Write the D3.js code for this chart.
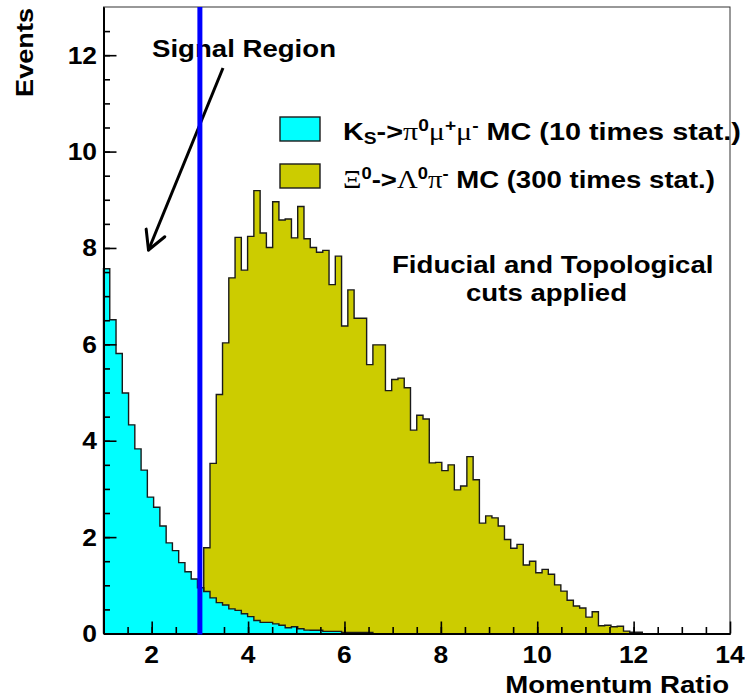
<!DOCTYPE html>
<html><head><meta charset="utf-8">
<script src="https://cdn.jsdelivr.net/npm/d3@7"></script>
<style>body{margin:0;background:#fff}svg{display:block}</style>
</head><body><svg id="c" width="745" height="699"></svg>
<script>
// ---------- data ----------
const binStart = 1;
const binWidth = 0.13;
// K_S -> pi0 mu+ mu- MC (cyan), bins from x=1
const ksValues = [7.57, 6.51, 5.81, 4.99, 4.33, 3.83, 3.39, 2.83, 2.62, 2.23, 1.88, 1.72, 1.47, 1.28, 1.13, 0.95, 0.87, 0.74, 0.64, 0.59, 0.51, 0.48, 0.41, 0.35, 0.27, 0.23, 0.23, 0.20, 0.17, 0.12, 0.14, 0.10, 0.07, 0.066, 0.066, 0.045, 0.045, 0.045, 0.02, 0.02, 0.02, 0.02, 0.02];
// Xi0 -> Lambda0 pi- MC (olive), bins from x=1
const xiValues = [0,0,0,0,0,0,0,0,0,0,0,0,0,0,0,0,
  1.78, 3.53, 4.96, 6.03, 7.38, 8.22, 7.54, 8.24, 9.19, 8.31, 8.01, 8.96, 8.58, 8.60, 8.21, 8.86, 8.19, 8.01, 7.91, 7.95,
  7.24, 7.83, 6.38, 7.13, 6.54, 6.54, 5.58, 5.99, 5.99, 5.04, 5.27, 5.30, 5.10, 4.22, 4.53, 4.45, 3.54, 3.55, 3.38, 3.50,
  2.98, 3.06, 3.67, 3.19, 2.29, 2.44, 2.40, 2.23, 1.95, 1.77, 1.85, 1.42, 1.50, 1.26, 1.33, 1.23, 1.01, 0.88, 0.69, 0.57,
  0.53, 0.34, 0.45, 0.16, 0.17, 0.14, 0.15, 0.05, 0.025, 0.025];
const xTicks = [2, 4, 6, 8, 10, 12, 14];
const yTicks = [0, 2, 4, 6, 8, 10, 12];
const xDomain = [1, 14];
const yDomain = [0, 13];
const signalCut = 3;
const xTitle = "Momentum Ratio";
const yTitle = "Events";
const signalText = "Signal Region";
const noteLines = ["Fiducial and Topological", "cuts applied"];

// ---------- setup ----------
const svg = d3.select("#c");
const x = d3.scaleLinear().domain(xDomain).range([103.5, 730]);
const y = d3.scaleLinear().domain(yDomain).range([633.5, 7]);
const SANS = "'Liberation Sans', Arial, Helvetica, sans-serif";
const SERIF = "'Liberation Serif', 'Times New Roman', serif";
const SX = 1.15;

function histPoints(vals) {
  const pts = [[binStart, 0]];
  vals.forEach((v, i) => pts.push([binStart + i * binWidth, v]));
  const end = binStart + vals.length * binWidth;
  pts.push([end, vals[vals.length - 1]]);
  pts.push([end, 0]);
  return pts;
}
const area = d3.area().curve(d3.curveStepAfter).x(d => x(d[0])).y0(y(0)).y1(d => y(d[1]));
const line = d3.line().curve(d3.curveStepAfter).x(d => x(d[0])).y(d => y(d[1]));

function drawHist(vals, fill) {
  const p = histPoints(vals);
  svg.append("path").attr("d", area(p)).attr("fill", fill);
  svg.append("path").attr("d", line(p)).attr("fill", "none").attr("stroke", "#1a1a1a").attr("stroke-width", 1.4);
}
drawHist(xiValues, "#cccc00");
drawHist(ksValues, "#00ffff");

// frame
svg.append("rect").attr("x", x(xDomain[0])).attr("y", y(yDomain[1]))
  .attr("width", x(xDomain[1]) - x(xDomain[0])).attr("height", y(yDomain[0]) - y(yDomain[1]))
  .attr("fill", "none").attr("stroke", "#333").attr("stroke-width", 1);

// axes (ticks inward)
const minorX = d3.range(1.5, 14, 0.5);
const minorY = d3.range(0.5, 13, 0.5);
function styleAxis(g) {
  g.selectAll("path").attr("stroke", "#000").attr("stroke-width", 2);
  g.selectAll("line").attr("stroke", "#000").attr("stroke-width", 1.6);
  g.selectAll("text").remove();
}
svg.append("g").attr("transform", `translate(0,${y(0)})`)
  .call(d3.axisBottom(x).tickValues(minorX).tickSizeInner(-6.5).tickSizeOuter(0).tickFormat("")).call(styleAxis);
svg.append("g").attr("transform", `translate(0,${y(0)})`)
  .call(d3.axisBottom(x).tickValues(xTicks).tickSizeInner(-12).tickSizeOuter(0).tickFormat("")).call(styleAxis);
svg.append("g").attr("transform", `translate(${x(xDomain[0])},0)`)
  .call(d3.axisLeft(y).tickValues(minorY).tickSizeInner(-6.5).tickSizeOuter(0).tickFormat("")).call(styleAxis);
svg.append("g").attr("transform", `translate(${x(xDomain[0])},0)`)
  .call(d3.axisLeft(y).tickValues(yTicks).tickSizeInner(-13).tickSizeOuter(0).tickFormat("")).call(styleAxis);

// helper for stretched bold text
function txt(s, px, py, anchor, opts = {}) {
  const t = svg.append("text")
    .attr("transform", `translate(${px},${py})${opts.rotate ? " rotate(-90)" : ""} scale(${opts.sx || SX},1)`)
    .attr("text-anchor", anchor)
    .style("font-family", SANS).style("font-weight", "bold")
    .style("font-size", (opts.size || 24) + "px").attr("fill", "#000").text(s);
  return t;
}

// tick labels
xTicks.forEach(v => txt(String(v), x(v), 663, "middle", {sx: 1.1}));
yTicks.forEach(v => txt(String(v), 97, y(v) + 8.5, "end", {sx: 1.1}));

// titles
txt(xTitle, 729, 693, "end");
txt(yTitle, 33, 8, "end", {rotate: true, sx: 1.13});
txt(signalText, 152, 57, "start");
txt(noteLines[0], 392, 273, "start");
txt(noteLines[1], 466, 301, "start");

// legend
const legendRows = [
  {fill: "#00ffff", top: 117, base: 140, width: 398, parts: [
    ["K"], ["S", "sub"], ["->"], ["\u03c0", "g"], ["0", "sup"], ["\u03bc", "g"], ["+", "sup"], ["\u03bc", "g"], ["-", "sup"], [" MC (10 times stat.)"]]},
  {fill: "#cccc00", top: 164, base: 188, width: 372, parts: [
    ["\u039e", "g"], ["0", "sup"], ["->"], ["\u039b", "g"], ["0", "sup"], ["\u03c0", "g"], ["-", "sup"], [" MC (300 times stat.)"]]}
];
legendRows.forEach(r => {
  svg.append("rect").attr("x", 280).attr("y", r.top).attr("width", 40).attr("height", 24)
    .attr("fill", r.fill).attr("stroke", "#1a1a1a").attr("stroke-width", 1.4);
  const t = svg.append("text").attr("transform", `translate(343,${r.base})`)
    .style("font-family", SANS).style("font-weight", "bold").style("font-size", "24px");
  let shift = 0;
  r.parts.forEach(([s, kind]) => {
    let target = 0, fam = SANS, w = "bold", size = 24;
    if (kind === "sup") { target = -9; size = 16; }
    if (kind === "sub") { target = 4; size = 16; }
    if (kind === "g") { fam = SERIF; w = "normal"; size = 25; }
    t.append("tspan").attr("dy", target - shift).style("font-family", fam).style("font-weight", w)
      .style("font-size", size + "px").text(s);
    shift = target;
  });
  const natural = t.node().getBBox().width;
  t.attr("transform", `translate(343,${r.base}) scale(${r.width / natural},1)`);
});

// arrow
const tip = [148.5, 250], tail = [223, 68];
svg.append("line").attr("x1", tail[0]).attr("y1", tail[1]).attr("x2", tip[0]).attr("y2", tip[1])
  .attr("stroke", "#000").attr("stroke-width", 3);
const ang = Math.atan2(tail[1] - tip[1], tail[0] - tip[0]);
[-0.5, 0.5].forEach(d => {
  svg.append("line").attr("x1", tip[0]).attr("y1", tip[1])
    .attr("x2", tip[0] + 21 * Math.cos(ang + d)).attr("y2", tip[1] + 21 * Math.sin(ang + d))
    .attr("stroke", "#000").attr("stroke-width", 3).attr("stroke-linecap", "round");
});

// signal cut line
svg.append("line").attr("x1", x(signalCut)).attr("x2", x(signalCut)).attr("y1", y(0) + 1).attr("y2", y(yDomain[1]))
  .attr("stroke", "#0000ff").attr("stroke-width", 5);
</script></body></html>
